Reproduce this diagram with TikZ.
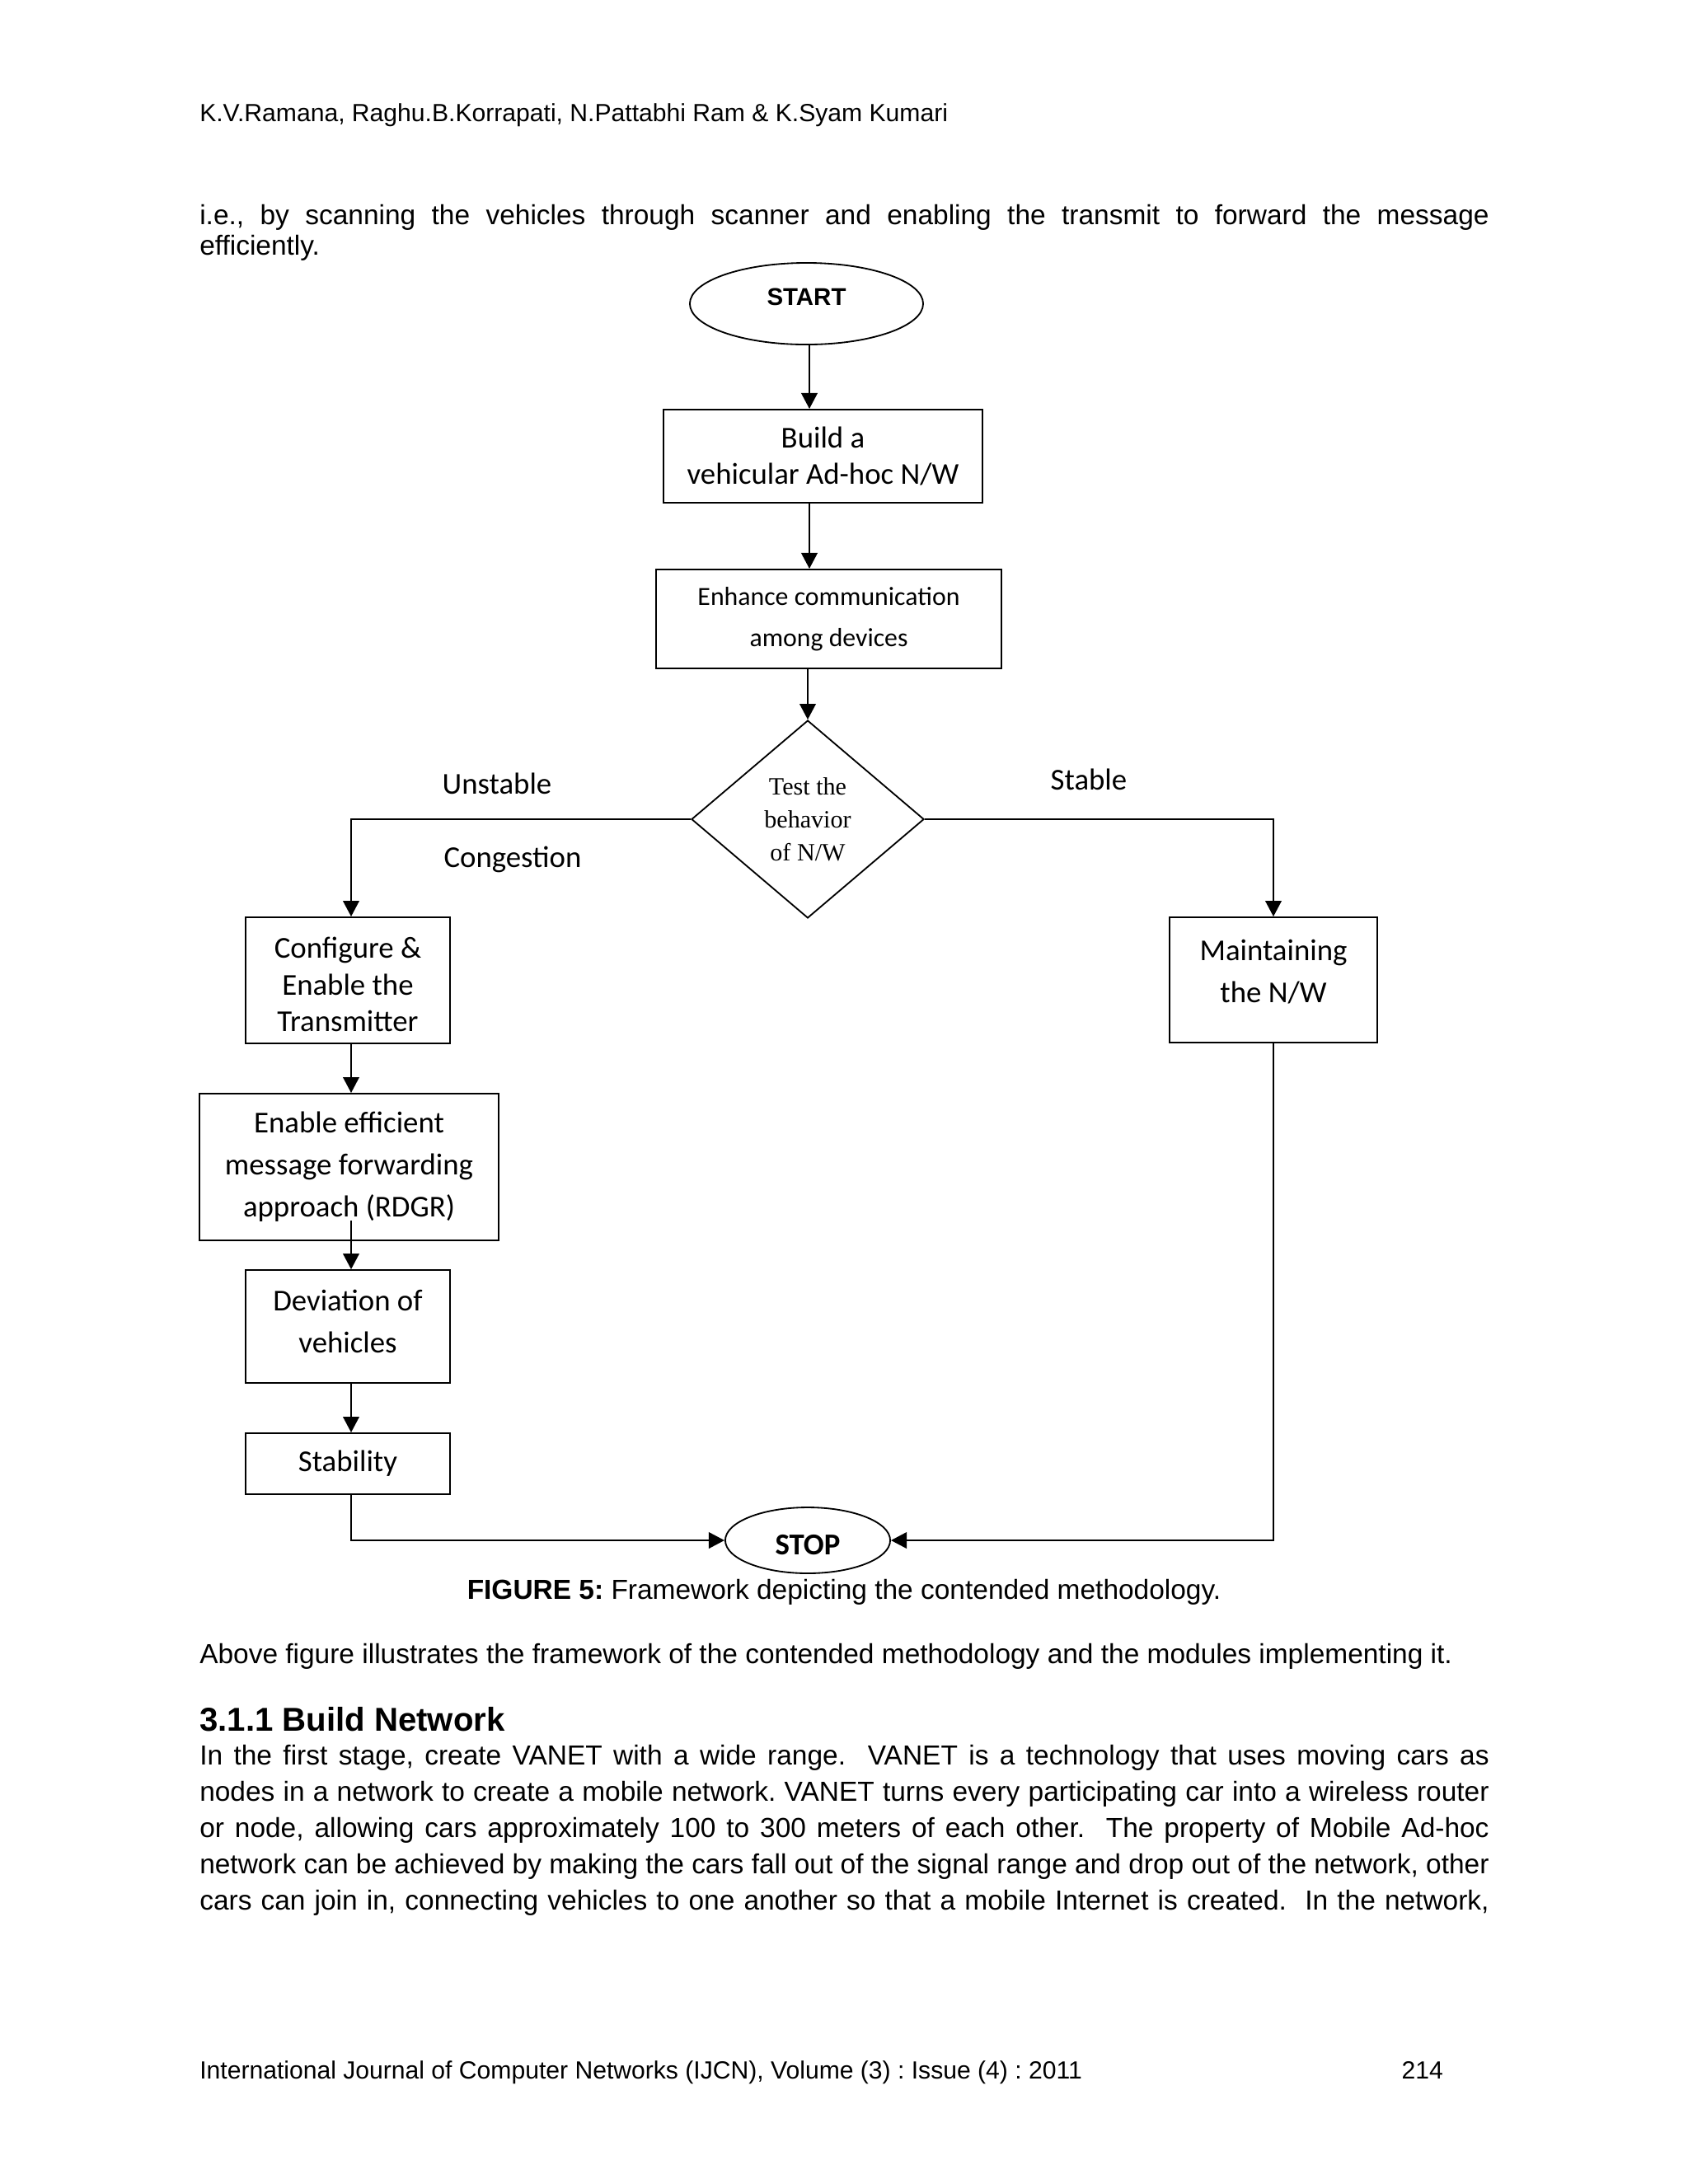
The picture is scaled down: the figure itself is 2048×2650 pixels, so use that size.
\documentclass[tikz,border=0pt]{standalone}
\usepackage{fontspec}
\setmainfont{Liberation Sans}
\newfontfamily\calibri{Carlito}
\newfontfamily\timesrm{Liberation Serif}
\usetikzlibrary{shapes.geometric,arrows.meta}
\frenchspacing

\tikzset{
  box/.style={draw, line width=0.55pt, align=center, inner sep=0pt, tight},
  tight/.style={font=\calibri\fontsize{11}{13.4}\selectfont},
  wide/.style={font=\calibri\fontsize{11}{15.2}\selectfont},
  boxtext/.style={align=center, inner sep=0pt},
  terminal/.style={draw, ellipse, line width=0.55pt, inner sep=0pt},
  lbl/.style={inner sep=0pt, font=\calibri\fontsize{11}{13}\selectfont},
  arr/.style={-{Triangle[length=5.7pt,width=5.8pt]}, line width=0.75pt},
  body/.style={anchor=base west, inner sep=0pt, font=\fontsize{10}{12}\selectfont},
  small/.style={anchor=base west, inner sep=0pt, font=\fontsize{9}{11}\selectfont}
}

\begin{document}
\begin{tikzpicture}[x=0.29883pt, y=-0.29883pt]
  \useasboundingbox (0,0) rectangle (2048,2650);

  % page text
  \node[small] (header) at (241.6,147) {K.V.Ramana, Raghu.B.Korrapati, N.Pattabhi Ram \& K.Syam Kumari};
  \node[body] (intro1) at (241.6,272) {\makebox[467.5pt][s]{i.e., by scanning the vehicles through scanner and enabling the transmit to forward the message}};
  \node[body] (intro2) at (241.6,309) {efficiently.};

  % flowchart
  \node[terminal, minimum width=84.6pt, minimum height=29.6pt, text height=6.3pt, text depth=5pt,
        font=\bfseries\fontsize{8.8}{10}\selectfont] (start) at (978.5,368.5) {START};
  \node[box, minimum width=115.6pt, minimum height=33.8pt] (build) at (998.5,553.5) {Build a\\vehicular Ad-hoc N/W};
  \node[box, minimum width=125.2pt, minimum height=35.9pt,
        font=\calibri\fontsize{9.5}{15}\selectfont] (enhance) at (1005.5,751) {Enhance communication\\among devices};
  \node[draw, diamond, aspect=1.18, minimum width=84.3pt, minimum height=71.7pt, inner sep=0pt,
        line width=0.55pt, align=center, font=\timesrm\fontsize{9}{12}\selectfont] (test) at (980,994) {Test the\\behavior\\of N/W};
  \node[box, minimum width=74.1pt, minimum height=45.7pt,
        label={[name=configtext, boxtext, tight, yshift=-1.5pt]center:{Configure \&\\Enable the\\Transmitter}}] (config) at (422,1189.5) {};
  \node[box, wide, minimum width=108.5pt, minimum height=53.2pt] (enable) at (423.5,1416) {Enable efficient\\message forwarding\\approach (RDGR)};
  \node[box, minimum width=74.1pt, minimum height=40.9pt,
        label={[name=deviationtext, boxtext, wide, yshift=1.8pt]center:{Deviation of\\vehicles}}] (deviation) at (422,1609.5) {};
  \node[box, minimum width=74.1pt, minimum height=22.1pt] (stability) at (422,1776) {Stability};
  \node[box, minimum width=75.3pt, minimum height=45.4pt,
        label={[name=maintaintext, boxtext, wide, yshift=3pt]center:{Maintaining\\the N/W}}] (maintain) at (1545,1189) {};
  \node[terminal, minimum width=59.8pt, minimum height=23.9pt, text height=10.7pt, text depth=0pt,
        font=\calibri\bfseries\fontsize{11}{13}\selectfont] (stop) at (980,1869) {STOP};

  \node[lbl] (unstable) at (603,951) {Unstable};
  \node[lbl] (congestion) at (622,1043) {Congestion};
  \node[lbl] (stable) at (1321,946) {Stable};

  \coordinate (spine) at (982,418);
  \coordinate (lane) at (426,994);

  \draw[arr] (start.south -| spine) -- (spine |- build.north);
  \draw[arr] (spine |- build.south) -- (spine |- enhance.north);
  \draw[arr] (test.north |- enhance.south) -- (test.north);
  \draw[arr] (test.west) -| (lane |- config.north);
  \draw[arr] (test.east) -| (maintain.north);
  \draw[arr] (lane |- config.south) -- (lane |- enable.north);
  \draw[arr] ([yshift=7.5pt]enable.south -| lane) -- (lane |- deviation.north);
  \draw[arr] (lane |- deviation.south) -- (lane |- stability.north);
  \draw[arr] (lane |- stability.south) |- (stop.west);
  \draw[arr] (maintain.south) |- (stop.east);

  \node[anchor=base, inner sep=0pt, font=\fontsize{10}{12}\selectfont] (caption) at (1024,1940)
    {\textbf{FIGURE 5:} Framework depicting the contended methodology.};

  % text below
  \node[body] (summary) at (241.6,2018) {Above figure illustrates the framework of the contended methodology and the modules implementing it.};
  \node[body, font=\bfseries\fontsize{12}{14}\selectfont] (heading) at (241.6,2100) {3.1.1 Build Network};
  \node[body] (para1) at (241.6,2141) {\makebox[467.5pt][s]{In the first stage, create VANET with a wide range.\ \ VANET is a technology that uses moving cars as}};
  \node[body] (para2) at (241.6,2185) {\makebox[467.5pt][s]{nodes in a network to create a mobile network. VANET turns every participating car into a wireless router}};
  \node[body] (para3) at (241.6,2229) {\makebox[467.5pt][s]{or node, allowing cars approximately 100 to 300 meters of each other.\ \ The property of Mobile Ad-hoc}};
  \node[body] (para4) at (241.6,2273) {\makebox[467.5pt][s]{network can be achieved by making the cars fall out of the signal range and drop out of the network, other}};
  \node[body] (para5) at (241.6,2317) {\makebox[467.5pt][s]{cars can join in, connecting vehicles to one another so that a mobile Internet is created.\ \ In the network,}};

  \node[small] (footer) at (241.6,2522) {International Journal of Computer Networks (IJCN), Volume (3) : Issue (4) : 2011};
  \node[small] (pageno) at (1700,2522) {214};
\end{tikzpicture}
\end{document}
